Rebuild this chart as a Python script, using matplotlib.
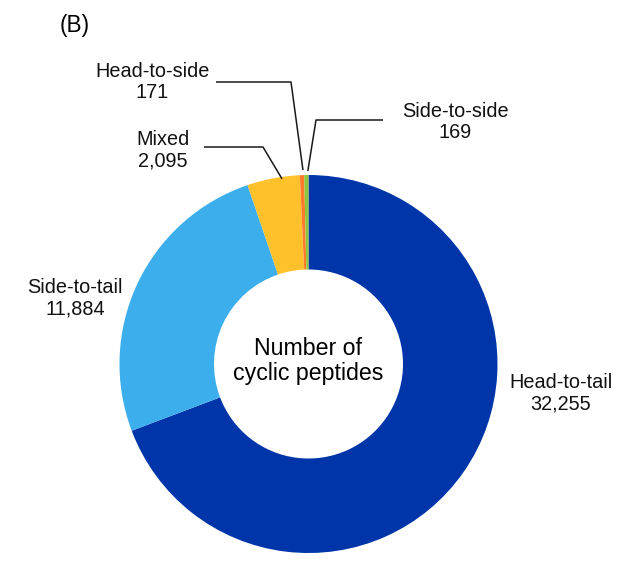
import matplotlib
matplotlib.use("Agg")
import matplotlib.pyplot as plt
import numpy as np

plt.rcParams['font.family'] = ['Liberation Sans', 'DejaVu Sans']

categories = ['Head-to-tail', 'Side-to-tail', 'Mixed', 'Head-to-side', 'Side-to-side']
counts = [32255, 11884, 2095, 171, 169]
colors = ['#0035A9', '#3BAEEB', '#FFC12B', '#FF7A2A', '#8DC63F']

W, H = 636, 561
fig = plt.figure(figsize=(W / 100, H / 100), dpi=100)
ax = fig.add_axes([0, 0, 1, 1])

# pixel-like coordinates, y measured from the top
cx, cy, R = 308.5, 364, 189
def py(y):
    return H - y

wedges, _ = ax.pie(counts, colors=colors, startangle=90, counterclock=False,
                   radius=R, center=(cx, py(cy)),
                   wedgeprops=dict(width=R * 0.5, linewidth=0))

ax.set_xlim(0, W)
ax.set_ylim(0, H)
ax.set_aspect('equal')
ax.axis('off')

fs = 14.3
ax.text(75, py(25), '(B)', fontsize=16.3, ha='center', va='center')
ax.text(cx, py(361), 'Number of\ncyclic peptides', fontsize=16.7,
        ha='center', va='center', linespacing=1.15)

# label positions (centre of text block)
label_pos = {
    'Head-to-tail': (561, 393.5),
    'Side-to-tail': (75, 298),
    'Mixed': (162.5, 150.5),
    'Head-to-side': (152.5, 82),
    'Side-to-side': (455, 122),
}
# leader: start, elbow, radial offset, position inside the wedge (0..1)
leaders = {
    'Mixed': ((204, 147), (263, 147), -2, 0.34),
    'Head-to-side': ((216, 82), (291, 82), 5, 0.25),
    'Side-to-side': ((383, 120), (316, 120), 4, 0.15),
}

for w, name, n in zip(wedges, categories, counts):
    x, y = label_pos[name]
    ax.text(x, py(y), f'{name}\n{n:,}', fontsize=fs, ha='center', va='center',
            linespacing=1.18, color='#111111')
    if name in leaders:
        (x0, y0), (x1, y1), dr, f = leaders[name]
        ang = np.deg2rad(w.theta1 + f * (w.theta2 - w.theta1))
        ex = cx + (R + dr) * np.cos(ang)
        ey = cy - (R + dr) * np.sin(ang)
        ax.plot([x0, x1, ex], [py(y0), py(y1), py(ey)], color='#1a1a1a', lw=1.1,
                solid_capstyle='butt')

fig.savefig('out.png', dpi=100)
